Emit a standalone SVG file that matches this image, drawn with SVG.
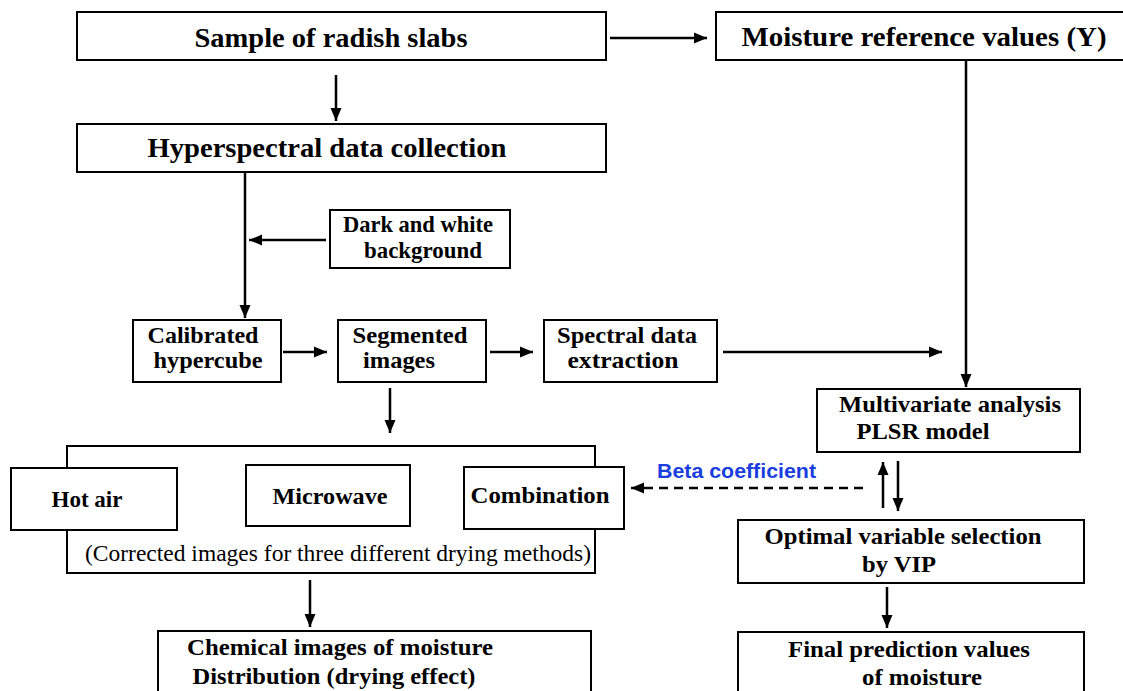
<svg xmlns="http://www.w3.org/2000/svg" width="1123" height="691" viewBox="0 0 1123 691">
  <style>
    .box { fill: #ffffff; stroke: #000000; stroke-width: 2; }
    .frame { fill: none; stroke: #000000; stroke-width: 2; }
    .t { font-family: "Liberation Serif", "Times New Roman", serif; font-weight: bold; fill: #000000; text-anchor: middle; }
    .big { font-size: 27px; }
    .mid { font-size: 24px; }
    .note { font-family: "Liberation Serif", "Times New Roman", serif; font-size: 23px; fill: #000000; text-anchor: middle; }
    .beta { font-family: "Liberation Sans", Arial, sans-serif; font-weight: bold; font-size: 21px; fill: #1a3ee0; }
    .link { fill: none; stroke: #000000; stroke-width: 2.5; }
    .dash { stroke-dasharray: 9 6; }
  </style>
  <defs>
    <marker id="arrow" markerUnits="userSpaceOnUse" markerWidth="14" markerHeight="14" viewBox="0 0 14 14" refX="13" refY="7" orient="auto">
      <path d="M0,1.5 L13,7 L0,12.5 Z" fill="#000000"/>
    </marker>
  </defs>

  <!-- bracket joining the three drying-method images -->
  <g id="drying-methods">
    <rect class="frame" x="67" y="446" width="528" height="127"/>
    <text class="note" x="338" y="561" textLength="506" lengthAdjust="spacingAndGlyphs">(Corrected images for three different drying methods)</text>
  </g>

  <g id="sample">
    <rect class="box" x="77" y="12" width="529" height="48"/>
    <text class="t big" x="331" y="47" textLength="273" lengthAdjust="spacingAndGlyphs">Sample of radish slabs</text>
  </g>
  <g id="moisture-ref">
    <rect class="box" x="716" y="12" width="410" height="48"/>
    <text class="t big" x="924" y="46" textLength="365" lengthAdjust="spacingAndGlyphs">Moisture reference values (Y)</text>
  </g>
  <g id="hyperspectral">
    <rect class="box" x="77" y="124" width="529" height="48"/>
    <text class="t big" x="327" y="157" textLength="359" lengthAdjust="spacingAndGlyphs">Hyperspectral data collection</text>
  </g>
  <g id="dark-white">
    <rect class="box" x="330" y="210" width="180" height="58"/>
    <text class="t mid" x="418" y="232" textLength="150" lengthAdjust="spacingAndGlyphs">Dark and white</text>
    <text class="t mid" x="423" y="258" textLength="118" lengthAdjust="spacingAndGlyphs">background</text>
  </g>
  <g id="calibrated">
    <rect class="box" x="133" y="320" width="148" height="62"/>
    <text class="t mid" x="203" y="343" textLength="111" lengthAdjust="spacingAndGlyphs">Calibrated</text>
    <text class="t mid" x="208" y="368" textLength="109" lengthAdjust="spacingAndGlyphs">hypercube</text>
  </g>
  <g id="segmented">
    <rect class="box" x="338" y="320" width="148" height="62"/>
    <text class="t mid" x="410" y="343" textLength="115" lengthAdjust="spacingAndGlyphs">Segmented</text>
    <text class="t mid" x="399" y="368" textLength="72" lengthAdjust="spacingAndGlyphs">images</text>
  </g>
  <g id="spectral">
    <rect class="box" x="544" y="320" width="173" height="62"/>
    <text class="t mid" x="627" y="343" textLength="140" lengthAdjust="spacingAndGlyphs">Spectral data</text>
    <text class="t mid" x="623" y="368" textLength="111" lengthAdjust="spacingAndGlyphs">extraction</text>
  </g>
  <g id="multivariate">
    <rect class="box" x="817" y="389" width="263" height="63"/>
    <text class="t mid" x="950" y="412" textLength="222" lengthAdjust="spacingAndGlyphs">Multivariate analysis</text>
    <text class="t mid" x="923" y="439" textLength="133" lengthAdjust="spacingAndGlyphs">PLSR model</text>
  </g>
  <g id="hot-air">
    <rect class="box" x="11" y="468" width="166" height="62"/>
    <text class="t mid" x="87" y="507" textLength="71" lengthAdjust="spacingAndGlyphs">Hot air</text>
  </g>
  <g id="microwave">
    <rect class="box" x="246" y="465" width="164" height="61"/>
    <text class="t mid" x="330" y="504" textLength="115" lengthAdjust="spacingAndGlyphs">Microwave</text>
  </g>
  <g id="combination">
    <rect class="box" x="464" y="467" width="160" height="62"/>
    <text class="t mid" x="540" y="503" textLength="139" lengthAdjust="spacingAndGlyphs">Combination</text>
  </g>
  <g id="optimal">
    <rect class="box" x="738" y="520" width="346" height="63"/>
    <text class="t mid" x="903" y="544" textLength="277" lengthAdjust="spacingAndGlyphs">Optimal variable selection</text>
    <text class="t mid" x="899" y="572" textLength="74" lengthAdjust="spacingAndGlyphs">by VIP</text>
  </g>
  <g id="final">
    <rect class="box" x="738" y="632" width="346" height="70"/>
    <text class="t mid" x="909" y="657" textLength="242" lengthAdjust="spacingAndGlyphs">Final prediction values</text>
    <text class="t mid" x="922" y="685" textLength="120" lengthAdjust="spacingAndGlyphs">of moisture</text>
  </g>
  <g id="chemical">
    <rect class="box" x="158" y="631" width="433" height="70"/>
    <text class="t mid" x="340" y="655" textLength="306" lengthAdjust="spacingAndGlyphs">Chemical images of moisture</text>
    <text class="t mid" x="334" y="684" textLength="283" lengthAdjust="spacingAndGlyphs">Distribution (drying effect)</text>
  </g>

  <g id="connectors">
    <line class="link" x1="336" y1="75" x2="336" y2="121" marker-end="url(#arrow)"/>
    <line class="link" x1="610" y1="38" x2="707" y2="38" marker-end="url(#arrow)"/>
    <line class="link" x1="966" y1="61" x2="966" y2="387" marker-end="url(#arrow)"/>
    <line class="link" x1="245" y1="173" x2="245" y2="318" marker-end="url(#arrow)"/>
    <line class="link" x1="326" y1="240" x2="249" y2="240" marker-end="url(#arrow)"/>
    <line class="link" x1="283" y1="352" x2="327" y2="352" marker-end="url(#arrow)"/>
    <line class="link" x1="490" y1="352" x2="533" y2="352" marker-end="url(#arrow)"/>
    <line class="link" x1="723" y1="352" x2="942" y2="352" marker-end="url(#arrow)"/>
    <line class="link" x1="390" y1="388" x2="390" y2="433" marker-end="url(#arrow)"/>
    <line class="link" x1="883" y1="508" x2="883" y2="462" marker-end="url(#arrow)"/>
    <line class="link" x1="898" y1="461" x2="898" y2="511" marker-end="url(#arrow)"/>
    <line class="link dash" x1="863" y1="488" x2="631" y2="488" marker-end="url(#arrow)"/>
    <line class="link" x1="887" y1="587" x2="887" y2="628" marker-end="url(#arrow)"/>
    <line class="link" x1="310" y1="580" x2="310" y2="627" marker-end="url(#arrow)"/>
    <text class="beta" x="657" y="478" textLength="159" lengthAdjust="spacingAndGlyphs">Beta coefficient</text>
  </g>
</svg>
